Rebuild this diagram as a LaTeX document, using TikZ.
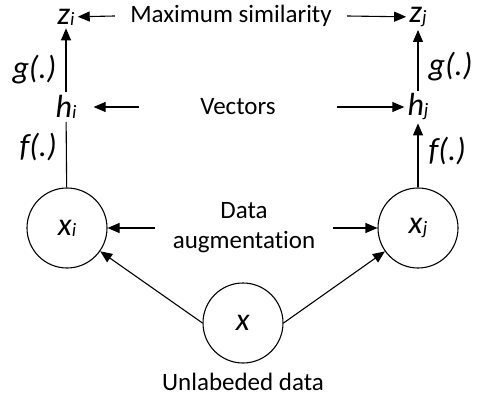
\documentclass[tikz,border=0pt]{standalone}
\usepackage{fontspec}
\setmainfont{Carlito}[Ligatures=NoCommon]
\usetikzlibrary{shapes, arrows.meta}

\newcommand{\vsub}[2]{\textit{#1}\raisebox{-1pt}{\fontsize{19}{19}\selectfont\textit{#2}}}

\begin{document}
\begin{tikzpicture}[x=1pt,y=-1pt]
    \tikzstyle{txt} = [font=\fontsize{25}{30}\selectfont, align=center, inner sep=0pt]
    \tikzstyle{v} = [font=\fontsize{32}{32}\selectfont, inner sep=3pt]
    \tikzstyle{c} = [circle, draw, line width=1.1pt, minimum size=80pt, inner sep=0pt, font=\fontsize{32}{32}\selectfont]
    \tikzstyle{line} = [line width=1.1pt]
    \tikzstyle{arrow} = [line width=1.1pt,-{Triangle[length=12pt,width=10pt]}]
    \tikzstyle{fn} = [font=\fontsize{32}{32}\selectfont\itshape, inner sep=0pt]
    \useasboundingbox (0,0) rectangle (479,398);
        \node (zi) [v] at (66,17) {\vsub{z}{i}};
        \node (zj) [v] at (418,17) {\vsub{z}{j}};
        \node (hi) [v] at (66,107) {\vsub{h}{i}};
        \node (hj) [v] at (418,107) {\vsub{h}{j}};
        \node (xi) [c] at (67,228) {\vsub{x}{i}};
        \node (xj) [c] at (418,228) {\vsub{x}{j}};
        \node (x) [c] at (243,323) {\textit{x}};
        \node (ms) [txt, minimum width=232pt] at (231,16) {Maximum similarity};
        \node (vec) [txt, minimum width=198pt] at (238,107) {Vectors};
        \node (da) [txt, minimum width=178pt] at (244,228) {Data\\augmentation};
        \node (ud) [txt] at (243,382) {Unlabeded data};
        \draw [arrow] (ms.west) -- (zi);
        \draw [arrow] (ms.east) -- (zj);
        \draw [arrow, shorten >=14pt] (vec.west) -- (hi);
        \draw [arrow] (vec.east) -- (hj);
        \draw [arrow] (da.west) -- (xi);
        \draw [arrow] (da.east) -- (xj);
        \draw [arrow] (hi) -- node[fn, pos=0.36, left=9pt]{g(.)} (zi);
        \draw [line] (xi) -- node[fn, pos=0.62, left=9pt]{f(.)} (hi);
        \draw [arrow] (hj) -- node[fn, pos=0.4, right=10pt]{g(.)} (zj);
        \draw [arrow] (xj) -- node[fn, pos=0.57, right=10pt]{f(.)} (hj);
        \draw [arrow] (x.west) -- (xi);
        \draw [arrow] (x.east) -- (xj);
\end{tikzpicture}
\end{document}
